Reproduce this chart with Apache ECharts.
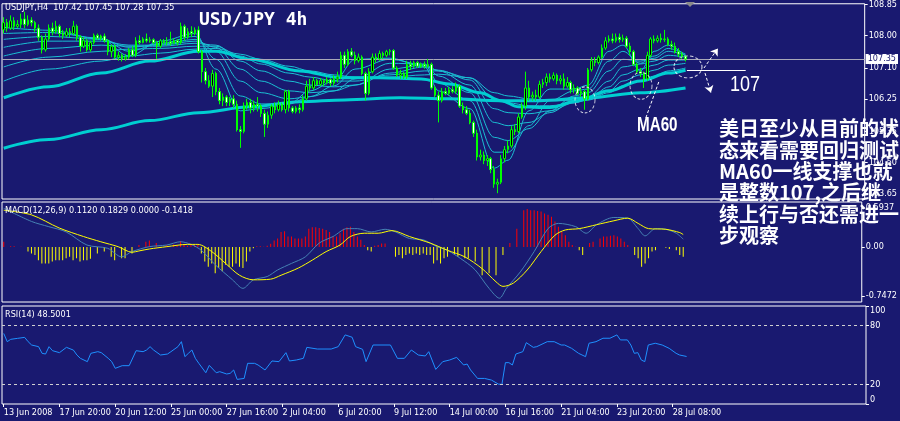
<!DOCTYPE html>
<html><head><meta charset="utf-8">
<script src="https://cdn.jsdelivr.net/npm/echarts@6/dist/echarts.min.js"></script>
<style>html,body{margin:0;padding:0;background:#191970;}#c{width:900px;height:421px;}</style>
</head><body><div id="c"></div>
<script>
// ---------- data ----------
const tickLabels = ['13 Jun 2008','17 Jun 20:00','20 Jun 12:00','25 Jun 00:00','27 Jun 16:00','2 Jul 04:00','6 Jul 20:00','9 Jul 12:00','14 Jul 00:00','16 Jul 16:00','21 Jul 04:00','23 Jul 20:00','28 Jul 08:00'];
const barsPerTick = 16;
const totalSlots = 248;
const priceTicks = [103.65,104.50,105.35,106.25,107.10,108.00,108.85];
const macdTicks = [-0.7472,0,0.5937];
const rsiTicks = [0,20,80,100];
const rsiLevels = [80,20];

const opens = [108.15,108.35,108.20,108.40,108.25,108.30,108.45,108.30,108.42,108.35,108.20,107.95,107.60,107.90,108.20,108.10,108.25,
108.05,108.00,108.10,108.05,108.25,107.95,107.70,
107.85,107.60,107.80,108.00,107.92,107.98,107.85,107.55,
107.70,107.40,107.45,107.35,107.40,107.60,107.45,107.85,107.80,
107.90,107.85,107.88,107.80,107.70,107.85,107.80,107.82,107.78,107.85,
107.80,108.25,107.95,108.10,108.05,108.15,107.55,107.00,106.75,106.60,
106.95,106.45,106.20,106.30,106.15,106.25,106.10,105.40,105.35,106.05,
106.15,106.00,106.10,106.05,105.85,105.55,105.80,106.05,105.95,106.10,
105.95,106.45,106.00,105.90,106.00,105.95,106.25,106.60,106.55,106.75,
106.65,106.75,106.70,106.78,106.68,106.80,106.85,107.45,107.20,107.55,
107.45,107.30,107.40,106.95,106.40,107.00,107.40,107.35,107.50,107.45,
107.55,107.58,107.10,106.90,106.95,106.85,107.20,107.15,107.25,107.15,
107.20,107.15,107.20,106.55,106.35,106.20,106.45,106.40,106.50,106.45,
106.60,106.05,105.95,105.85,105.60,105.30,104.65,104.70,104.55,104.60,
104.30,103.90,103.95,104.60,104.85,104.95,105.40,105.35,105.75,106.05,
106.55,106.30,106.35,106.30,106.65,106.70,106.85,106.80,106.90,106.75,
106.80,106.60,106.70,106.50,106.55,106.40,106.45,106.25,107.05,107.30,
107.25,107.40,107.65,107.85,107.90,107.85,107.95,107.88,107.92,107.70,
107.55,107.20,107.00,106.95,106.80,107.45,107.90,107.85,107.92,107.88,
107.90,107.75,107.70,107.55,107.48,107.42];
const closes = [108.35,108.20,108.40,108.25,108.30,108.45,108.30,108.42,108.35,108.20,107.95,107.60,107.90,108.20,108.10,108.25,108.05,
108.00,108.10,108.05,108.25,107.95,107.70,107.85,
107.60,107.80,108.00,107.92,107.98,107.85,107.55,107.70,
107.40,107.45,107.35,107.40,107.60,107.45,107.85,107.80,107.90,
107.85,107.88,107.80,107.70,107.85,107.80,107.82,107.78,107.85,107.80,
108.25,107.95,108.10,108.05,108.15,107.55,107.00,106.75,106.60,106.95,
106.45,106.20,106.30,106.15,106.25,106.10,105.40,105.35,106.05,106.15,
106.00,106.10,106.05,105.85,105.55,105.80,106.05,105.95,106.10,105.95,
106.45,106.00,105.90,106.00,105.95,106.25,106.60,106.55,106.75,106.65,
106.75,106.70,106.78,106.68,106.80,106.85,107.45,107.20,107.55,107.45,
107.30,107.40,106.95,106.40,107.00,107.40,107.35,107.50,107.45,107.55,
107.58,107.10,106.90,106.95,106.85,107.20,107.15,107.25,107.15,107.20,
107.15,107.20,106.55,106.35,106.20,106.45,106.40,106.50,106.45,106.60,
106.05,105.95,105.85,105.60,105.30,104.65,104.70,104.55,104.60,104.30,
103.90,103.95,104.60,104.85,104.95,105.40,105.35,105.75,106.05,106.55,
106.30,106.35,106.30,106.65,106.70,106.85,106.80,106.90,106.75,106.80,
106.60,106.70,106.50,106.55,106.40,106.45,106.25,107.05,107.30,107.25,
107.40,107.65,107.85,107.90,107.85,107.95,107.88,107.92,107.70,107.55,
107.20,107.00,106.95,106.80,107.45,107.90,107.85,107.92,107.88,107.90,
107.75,107.70,107.55,107.48,107.42,107.35];
const lows = [108.05,108.10,108.15,108.15,108.20,108.20,108.20,108.25,108.25,108.10,107.85,107.50,107.55,107.85,108.00,108.05,107.95,
107.90,107.95,107.95,108.00,107.85,107.55,107.65,
107.55,107.55,107.75,107.88,107.85,107.80,107.45,107.40,
107.35,107.30,107.28,107.30,107.35,107.40,107.40,107.75,107.78,
107.80,107.80,107.75,107.35,107.65,107.75,107.72,107.72,107.75,107.72,
107.75,107.85,107.90,107.95,108.00,107.50,106.70,106.65,106.55,106.30,
106.35,106.10,106.05,106.05,106.05,106.00,105.35,104.90,105.30,105.95,
105.85,105.90,105.90,105.75,105.20,105.45,105.70,105.85,105.90,105.90,
105.85,105.90,105.85,105.85,105.85,105.90,106.20,106.45,106.50,106.60,
106.60,106.60,106.65,106.60,106.62,106.70,106.80,107.10,107.15,107.40,
107.20,107.25,106.90,106.20,106.35,106.95,107.25,107.30,107.35,107.40,
107.45,107.05,106.85,106.80,106.80,106.80,107.05,107.10,107.10,107.10,
107.08,107.10,106.50,106.30,105.60,106.15,106.35,106.35,106.40,106.40,
106.00,105.85,105.80,105.55,105.20,104.55,104.55,104.45,104.40,104.20,
103.80,103.65,103.90,104.50,104.75,104.90,105.25,105.30,105.70,105.95,
106.20,106.20,106.20,106.25,106.55,106.60,106.70,106.75,106.65,106.65,
106.50,106.55,106.40,106.40,106.35,106.30,105.95,106.20,107.00,107.15,
107.20,107.35,107.60,107.80,107.78,107.80,107.80,107.82,107.65,107.45,
107.15,106.95,106.85,106.55,106.75,107.40,107.78,107.80,107.80,107.82,
107.70,107.60,107.50,107.40,107.35,107.28];
const highs = [108.50,108.45,108.55,108.50,108.42,108.60,108.65,108.55,108.50,108.40,108.30,108.00,108.05,108.30,108.35,108.40,108.30,
108.15,108.20,108.20,108.40,108.30,108.00,107.95,
107.90,107.85,108.05,108.05,108.02,108.05,107.90,107.75,
107.75,107.55,107.50,107.48,107.65,107.70,107.95,108.00,107.95,
108.05,107.95,107.92,107.85,107.90,107.90,107.95,108.10,107.92,107.90,
108.35,108.30,108.20,108.25,108.22,108.25,107.60,107.10,106.90,107.05,
107.00,106.55,106.40,106.35,106.30,106.35,106.20,105.50,106.15,106.25,
106.25,106.20,106.30,106.10,105.95,105.90,106.10,106.15,106.20,106.15,
106.50,106.50,106.05,106.05,106.10,106.35,106.75,106.80,106.85,106.80,
106.82,106.80,106.85,106.82,106.90,107.00,107.55,107.55,107.62,107.65,
107.55,107.50,107.45,107.00,107.10,107.50,107.50,107.58,107.55,107.60,
107.62,107.62,107.15,107.05,107.00,107.30,107.30,107.30,107.30,107.25,
107.28,107.35,107.25,106.60,106.45,106.55,106.55,106.58,106.60,106.70,
106.65,106.15,106.05,105.95,105.65,105.40,104.85,104.80,104.70,104.65,
104.40,104.05,104.70,104.95,105.10,105.50,105.55,105.85,106.15,107.00,
106.75,106.45,106.50,106.75,106.80,106.95,106.95,106.98,106.95,106.90,
106.95,106.85,106.75,106.65,106.60,106.55,106.50,107.10,107.40,107.40,
107.45,107.75,107.95,108.00,108.05,108.05,108.05,108.02,107.98,107.80,
107.60,107.25,107.10,107.00,107.55,107.95,108.00,108.00,108.05,108.15,
107.95,107.85,107.80,107.65,107.55,107.45];

// moving-average ribbon, read at anchor bars
const ribbonIdx = [0,13,28,36,45,55,61,68,74,82,88,95,101,111,121,125,134,141,145,151,157,164,168,174,178,183,187,191,196];
const ma1 = [108.22,108.14,107.89,107.43,107.84,108.05,107.07,105.92,105.98,106.11,106.47,106.74,107.34,107.37,107.13,106.47,105.98,104.34,104.56,105.92,106.52,106.52,106.63,107.56,107.73,107.02,107.56,107.73,107.43];
const ma2 = [108.05,108.08,107.92,107.56,107.78,107.97,107.34,106.33,106.11,106.11,106.31,106.61,107.07,107.34,107.18,106.69,106.20,104.78,104.78,105.51,106.20,106.47,106.52,107.29,107.56,107.23,107.43,107.64,107.48];
const ma3 = [107.89,107.97,107.89,107.67,107.75,107.89,107.56,106.74,106.42,106.25,106.31,106.47,106.80,107.23,107.21,106.88,106.42,105.19,105.10,105.43,105.92,106.33,106.42,107.02,107.34,107.29,107.37,107.56,107.45];
const ma4 = [107.67,107.84,107.84,107.73,107.73,107.84,107.67,107.07,106.74,106.47,106.42,106.47,106.63,107.07,107.18,107.02,106.63,105.60,105.51,105.60,105.87,106.20,106.31,106.74,107.13,107.21,107.29,107.45,107.40];
const ma5 = [107.43,107.64,107.73,107.70,107.70,107.78,107.73,107.29,107.02,106.74,106.63,106.58,106.63,106.96,107.13,107.04,106.77,105.98,105.87,105.84,105.92,106.14,106.25,106.58,106.91,107.07,107.18,107.32,107.32];
const ma6 = [107.13,107.40,107.56,107.62,107.64,107.70,107.70,107.43,107.21,106.96,106.85,106.74,106.74,106.91,107.02,107.02,106.83,106.25,106.14,106.06,106.06,106.14,106.22,106.47,106.74,106.91,107.04,107.18,107.23];
const ma7 = [106.74,107.07,107.29,107.43,107.51,107.62,107.64,107.48,107.34,107.15,107.02,106.91,106.85,106.85,106.91,106.93,106.83,106.42,106.33,106.25,106.20,106.20,106.22,106.42,106.61,106.74,106.88,107.02,107.10];
const ma60Idx = [0,13,28,42,56,61,71,85,97,108,120,128,137,143,148,157,165,174,183,191,196];
const ma60 = [106.28,106.58,106.96,107.29,107.56,107.56,107.34,107.02,106.83,106.83,106.80,106.66,106.42,106.20,106.03,106.01,106.20,106.47,106.74,106.96,107.04];
const maSlowIdx = [0,13,28,42,56,71,85,98,114,128,143,154,168,183,196];
const maSlow = [104.89,105.13,105.40,105.65,105.87,106.03,106.17,106.22,106.28,106.25,106.20,106.20,106.28,106.42,106.55];

// MACD
const macdHist = [0.08,0,0.01,0.01,0,0.005,0,-0.07,-0.10,-0.12,
-0.20,-0.25,-0.25,-0.25,-0.22,-0.20,-0.20,-0.20,-0.17,-0.15,
-0.20,-0.17,-0.22,-0.20,-0.20,-0.18,0,-0.10,0,-0.07,
0,-0.15,-0.20,0,-0.17,-0.17,0,-0.10,0,0.03,
0,0.08,0.10,0,0.06,0,0,0.03,0,0.04,
0.03,0.09,0.03,0.02,0.03,0.03,0.04,-0.10,-0.22,-0.30,
-0.25,-0.40,-0.32,-0.37,-0.27,-0.30,-0.30,-0.25,-0.30,-0.32,
-0.22,-0.07,-0.02,0.01,0.01,0.005,0.02,0.05,0.10,0.13,
0.23,0.24,0.16,0.16,0.13,0.13,0.13,0.16,0.28,0.30,
0.30,0.29,0.28,0.26,0.23,0.16,0.16,0.21,0.28,0.30,
0.31,0.23,0.16,0.11,0.03,-0.05,-0.07,0.02,0.03,0.055,
0.055,0,0,-0.15,-0.12,-0.17,-0.12,-0.10,-0.12,-0.10,
-0.12,-0.10,-0.12,-0.12,-0.25,-0.20,-0.25,-0.17,-0.15,0,
-0.12,-0.15,0,-0.17,-0.17,0,-0.22,0,-0.43,0,
-0.40,0,-0.43,0,-0.12,0,0.06,0,0.28,0,
0.56,0.58,0.56,0.56,0.55,0.54,0.51,0.49,0.46,0.39,
0.31,0.23,0.18,0.08,0.03,0.005,-0.05,-0.12,0,0.06,
0.08,0,0.13,0.16,0.16,0.17,0.18,0.16,0.13,0.08,
0.03,0,-0.12,-0.17,-0.30,-0.25,-0.17,-0.07,-0.05,0,
0,-0.01,-0.03,0,-0.05,-0.12,-0.15];
const signalIdx = [0,8,16,23,28,33,37,39,42,47,53,56,60,64,68,72,77,80,85,89,93,97,100,104,108,112,117,123,128,133,138,142,144,147,151,155,159,162,166,171,176,180,183,186,191,195,196];
const signalVal = [0.56,0.49,0.29,0.16,0.08,0.005,-0.08,-0.06,-0.03,0.005,0.04,0.04,-0.07,-0.25,-0.43,-0.50,-0.49,-0.43,-0.32,-0.20,-0.07,0.03,0.16,0.21,0.21,0.25,0.16,0.06,-0.05,-0.15,-0.33,-0.53,-0.60,-0.55,-0.35,-0.07,0.18,0.26,0.28,0.34,0.40,0.44,0.36,0.28,0.27,0.22,0.19];
const macdIdx = [0,8,13,18,24,30,34,37,42,47,51,54,57,61,66,69,72,76,79,83,87,91,95,99,102,106,110,113,117,121,125,128,133,136,140,143,145,149,153,157,160,165,168,171,176,180,183,185,188,191,194,196];
const macdVal = [0.59,0.39,0.31,0.23,0.03,-0.02,-0.15,-0.07,0.005,0.03,0.08,0.04,-0.05,-0.27,-0.50,-0.63,-0.50,-0.45,-0.35,-0.25,-0.15,0.06,0.16,0.28,0.28,0.23,0.27,0.23,0.13,0.11,0.005,-0.05,-0.22,-0.35,-0.63,-0.78,-0.63,-0.38,-0.07,0.28,0.36,0.31,0.21,0.34,0.45,0.44,0.28,0.17,0.28,0.27,0.21,0.12];

// RSI(14)
const rsiIdx = [0,1,2,4,6,7,8,10,11,12,13,14,16,18,20,21,22,24,25,27,28,30,31,32,34,36,38,40,41,42,43,45,47,48,50,51,52,53,54,55,56,58,59,61,62,64,65,66,67,69,70,72,73,75,77,79,81,82,84,86,87,90,94,96,98,100,101,103,104,106,108,111,113,115,117,119,121,122,124,126,128,130,132,133,134,136,138,140,142,143,144,145,146,147,149,150,152,153,156,158,160,161,163,165,167,168,170,172,174,176,177,179,180,181,182,183,184,185,187,189,191,193,194,196];
const rsiVal = [72,63.6,66,67,68,63.6,60.2,58.5,51.7,51,58.5,54.4,52.4,57.8,55,50,46.6,43.2,51.7,53.4,52.4,46.6,43.2,36.4,39.1,39.1,54.4,53.4,55.1,58.5,55.1,50,51,53.4,58.5,63.6,48.3,51.7,55.1,46.6,41.5,31.9,39.4,31.9,33,30.6,31.3,34.7,25.1,26.1,41.5,41.5,39.8,34.7,43.9,43.2,52.4,43.9,44.9,46.6,57.8,56.1,56.1,58.5,70.5,68.1,58.5,55.8,43.2,60.2,60.2,60.2,46.6,46.6,55.1,50,49,53.4,35.3,43.2,44.9,47.6,39.8,40.8,34.7,26.1,26.1,24.4,20.3,20,42.2,42.2,39.8,51,53.4,62.6,57.8,58.5,63.6,63.6,60.2,60.2,56.8,51.7,48.3,62,63.6,67.1,67.1,70.5,65.4,65.4,60.2,51.7,52.4,44.9,43.2,60.2,62,60.2,56.8,51.7,50,48.5];

// hand-drawn annotations (bar position, price)
const noteCircles = [[167.1,106.22],[183.2,106.61],[196.7,107.13]];
const noteArrows = [[[201.3,107.10],[205.3,107.64]],[[201.6,106.96],[203.3,106.42]]];
const noteLevel = [[196.4,107.05],[213.3,107.05]];
const noteLeader = [[184.6,105.73],[188.4,106.74]];

const headerText = 'USDJPY,H4  107.42 107.45 107.28 107.35';
const macdText = 'MACD(12,26,9) 0.1120 0.1829 0.0000 -0.1418';
const rsiText = 'RSI(14) 48.5001';
const noteLines = ['美日至少从目前的状','态来看需要回归测试','MA60一线支撑也就','是整数107,之后继','续上行与否还需进一','步观察'];

// ---------- chart ----------
const NAVY = '#191970';
const smallFont = "'Liberation Sans Narrow','DejaVu Sans Condensed','Liberation Sans',sans-serif";
const cats = Array.from({length: totalSlots}, (_, i) => String(i));
const candles = opens.map((o, i) => [o, closes[i], lows[i], highs[i]]);
const pairs = (idx, vals) => idx.map((x, k) => [x, vals[k]]);
const isTick = i => i % barsPerTick === 0 && i / barsPerTick < tickLabels.length;

const thinStyle = {color: '#19bfd3', width: 1};
const thick = {color: '#00ced1', width: 3};
function maLine(idx, vals, style) {
  return {type: 'line', xAxisIndex: 0, yAxisIndex: 0, data: pairs(idx, vals), symbol: 'none',
    smooth: 0.35, smoothMonotone: 'x', lineStyle: style, z: 2, silent: true};
}
const hiddenCat = gi => ({type: 'category', gridIndex: gi, data: cats, boundaryGap: true,
  axisLine: {show: false}, axisTick: {show: false}, axisLabel: {show: false}, splitLine: {show: false}});

const chart = echarts.init(document.getElementById('c'), null, {renderer: 'canvas'});
const labelStyle = {color: '#ffffff', fontSize: 9, fontFamily: smallFont};
const yTick = vals => ({show: true, length: 3, customValues: vals, lineStyle: {color: '#ffffff'}});
chart.setOption({
  backgroundColor: NAVY,
  animation: false,
  grid: [
    {left: 2, top: 2, width: 864, height: 197, show: true, borderColor: '#ffffff', borderWidth: 1, backgroundColor: 'transparent'},
    {left: 2, top: 202, width: 864, height: 100, show: true, borderColor: '#ffffff', borderWidth: 1, backgroundColor: 'transparent'},
    {left: 2, top: 306, width: 864, height: 98, show: true, borderColor: '#ffffff', borderWidth: 1, backgroundColor: 'transparent'}
  ],
  xAxis: [
    hiddenCat(0),
    {type: 'value', gridIndex: 0, min: -0.5, max: totalSlots - 0.5, show: false},
    hiddenCat(1),
    {type: 'category', gridIndex: 2, data: cats, boundaryGap: true, axisLine: {show: false},
      axisTick: {show: true, interval: isTick, alignWithLabel: true, length: 3, lineStyle: {color: '#ffffff'}},
      axisLabel: {show: true, interval: isTick, align: 'left', margin: 4, ...labelStyle,
        formatter: (v, i) => tickLabels[Math.round(i / barsPerTick)] || ''},
      splitLine: {show: false}}
  ],
  yAxis: [
    {type: 'value', gridIndex: 0, position: 'right', min: 103.49, max: 108.87, splitLine: {show: false},
      axisLine: {show: false, onZero: false}, axisTick: yTick(priceTicks),
      axisLabel: {show: true, margin: 4, customValues: priceTicks, formatter: v => v.toFixed(2), ...labelStyle}},
    {type: 'value', gridIndex: 1, position: 'right', min: -0.838, max: 0.686, splitLine: {show: false},
      axisLine: {show: false, onZero: false}, axisTick: yTick(macdTicks),
      axisLabel: {show: true, margin: 4, customValues: macdTicks, formatter: v => v === 0 ? '0.00' : String(v), ...labelStyle}},
    {type: 'value', gridIndex: 2, position: 'right', min: 0, max: 100, splitLine: {show: false},
      axisLine: {show: false, onZero: false}, axisTick: yTick(rsiTicks),
      axisLabel: {show: true, margin: 4, customValues: rsiTicks, verticalAlignMaxLabel: 'top', verticalAlignMinLabel: 'bottom', ...labelStyle}}
  ],
  series: [
    maLine(maSlowIdx, maSlow, thick),
    maLine(ribbonIdx, ma7, thinStyle),
    maLine(ribbonIdx, ma6, thinStyle),
    maLine(ribbonIdx, ma5, thinStyle),
    maLine(ribbonIdx, ma4, thinStyle),
    maLine(ribbonIdx, ma3, thinStyle),
    maLine(ribbonIdx, ma2, thinStyle),
    maLine(ribbonIdx, ma1, thinStyle),
    maLine(ma60Idx, ma60, thick),
    {type: 'candlestick', xAxisIndex: 0, yAxisIndex: 0, data: candles, barWidth: 2, z: 5,
      itemStyle: {color: '#000000', color0: '#ffffff', borderColor: '#00ff00', borderColor0: '#00ff00', borderWidth: 1},
      markLine: {silent: true, symbol: 'none', animation: false,
        lineStyle: {color: '#a8a8b8', width: 1, type: 'solid'},
        label: {show: true, position: 'end', distance: 1, formatter: p => p.value.toFixed(2),
          color: NAVY, backgroundColor: '#ffffff', padding: [1, 2, 0, 2], fontSize: 9, fontFamily: smallFont},
        data: [{yAxis: closes[closes.length - 1]}]}},
    {type: 'scatter', xAxisIndex: 1, yAxisIndex: 0, z: 8, silent: true,
      data: noteCircles.map((c, k) => ({value: c, symbolSize: [[20, 26], [22, 27], [28, 22]][k]})),
      itemStyle: {color: 'rgba(0,0,0,0)', borderColor: '#ffffff', borderWidth: 1, borderType: [3, 2]}},
    {type: 'lines', coordinateSystem: 'cartesian2d', xAxisIndex: 1, yAxisIndex: 0, z: 8, silent: true,
      symbol: ['none', 'arrow'], symbolSize: 7,
      lineStyle: {color: '#ffffff', width: 1, type: [3, 2], opacity: 1},
      data: noteArrows.map(c => ({coords: c}))},
    {type: 'lines', coordinateSystem: 'cartesian2d', xAxisIndex: 1, yAxisIndex: 0, z: 8, silent: true,
      symbol: 'none',
      data: [{coords: noteLevel, lineStyle: {color: '#ffffff', width: 1, opacity: 1}},
             {coords: noteLeader, lineStyle: {color: '#ffffff', width: 1, type: [3, 2], opacity: 1}}]},
    {type: 'bar', xAxisIndex: 2, yAxisIndex: 1, barWidth: 1, silent: true,
      data: macdHist.map(v => ({value: v, itemStyle: {color: v >= 0 ? '#ff0000' : '#ffff00'}}))},
    {type: 'line', xAxisIndex: 2, yAxisIndex: 1, data: pairs(macdIdx, macdVal), symbol: 'none', smooth: 0.3,
      lineStyle: {color: '#4682b4', width: 1}, silent: true},
    {type: 'line', xAxisIndex: 2, yAxisIndex: 1, data: pairs(signalIdx, signalVal), symbol: 'none', smooth: 0.3,
      lineStyle: {color: '#ffff00', width: 1}, silent: true},
    {type: 'line', xAxisIndex: 3, yAxisIndex: 2, data: pairs(rsiIdx, rsiVal), symbol: 'none',
      lineStyle: {color: '#1e90ff', width: 1}, silent: true,
      markLine: {silent: true, symbol: 'none', label: {show: false},
        lineStyle: {color: '#d0d0d0', width: 1, type: [3, 3]},
        data: rsiLevels.map(v => ({yAxis: v}))}}
  ],
  graphic: [
    {type: 'text', left: 5, top: 3, z: 20, style: {text: headerText, fill: '#ffffff', font: '9px ' + smallFont}},
    {type: 'text', left: 5, top: 206, z: 20, style: {text: macdText, fill: '#ffffff', font: '9px ' + smallFont}},
    {type: 'text', left: 5, top: 310, z: 20, style: {text: rsiText, fill: '#ffffff', font: '9px ' + smallFont}},
    {type: 'text', left: 199, top: 11, z: 20, style: {text: 'USD/JPY 4h', fill: '#ffffff', font: "bold 18px 'DejaVu Sans Mono', monospace"}},
    {type: 'text', x: 730, y: 85, scaleX: 0.82, z: 20, style: {text: '107', fill: '#ffffff', font: "22px 'Liberation Sans', sans-serif", textVerticalAlign: 'middle'}},
    {type: 'text', x: 637, y: 125, scaleX: 0.76, z: 20, style: {text: 'MA60', fill: '#ffffff', font: "bold 20px 'Liberation Sans', sans-serif", textVerticalAlign: 'middle'}},
    {type: 'text', left: 719, top: 118, z: 30, style: {text: noteLines.join('\n'), fill: '#ffffff', lineHeight: 21.4,
      font: "bold 20px 'Noto Sans CJK SC', sans-serif"}},
    {type: 'polygon', z: 20, shape: {points: [[685, 2], [695, 2], [690, 7]]}, style: {fill: '#8a8a8a'}}
  ]
});
</script>
</body></html>
